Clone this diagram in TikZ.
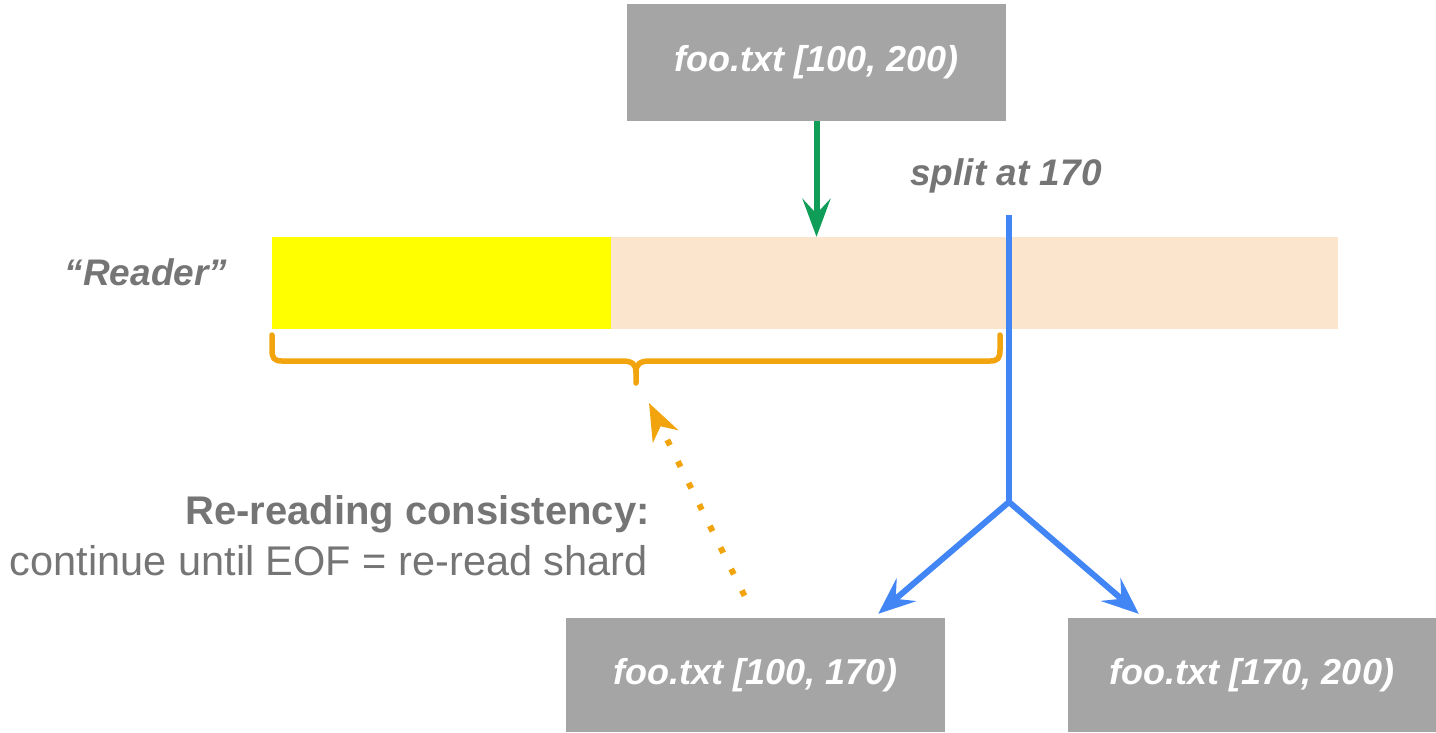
\documentclass[tikz,border=0pt]{standalone}
\usepackage{fontspec}
\setmainfont{Liberation Sans}
\usetikzlibrary{arrows.meta}
\definecolor{boxgray}{RGB}{165,165,165}
\definecolor{txtgray}{RGB}{117,117,117}
\definecolor{flowgreen}{RGB}{15,157,88}
\definecolor{splitblue}{RGB}{66,133,244}
\definecolor{braceorange}{RGB}{241,164,13}
\definecolor{readyellow}{RGB}{255,255,0}
\definecolor{peach}{RGB}{252,229,205}
\begin{document}
% y grows downwards; xshift/yshift below are paper offsets (positive yshift = up)
\begin{tikzpicture}[x=1pt,y=-1pt,
  shard/.style={fill=boxgray, inner sep=0pt, text=white,
    font=\fontsize{36}{43}\selectfont\bfseries\itshape},
  segment/.style={inner sep=0pt, minimum height=92pt},
  caption/.style={text=txtgray, inner sep=0pt},
  bracepath/.style={draw=braceorange, line width=5.5pt, line cap=round, line join=round},
  greenflow/.style={draw=flowgreen, line width=6pt,
    -{Stealth[length=38pt,width=28pt,inset=15pt]}},
  bluesplit/.style={draw=splitblue, line width=6pt},
  bluearrow/.style={bluesplit, -{Stealth[length=37pt,width=30pt,inset=14pt]}},
  dottedarrow/.style={draw=braceorange, line width=6pt, dash pattern=on 6pt off 18pt,
    -{Stealth[length=37pt,width=28pt,inset=11pt]}}]
\useasboundingbox (0,0) rectangle (1436,732);

% source shard
\node[shard, minimum width=379pt, minimum height=117pt] (top) at (816.5,62.5) {foo.txt [100, 200)};

% reader progress bar
\node[segment, fill=readyellow, minimum width=339pt] (done) at (441.5,283) {};
\node[segment, fill=peach, minimum width=727pt] (rest) at (974.5,283) {};

% resulting shards
\node[shard, minimum width=379pt, minimum height=114pt] (left) at (755.5,675) {foo.txt [100, 170)};
\node[shard, minimum width=368pt, minimum height=114pt] (right) at (1252,675) {foo.txt [170, 200)};

% labels
\node[caption, font=\fontsize{37}{44}\selectfont\bfseries\itshape] (reader) at (146,272) {“Reader”};
\node[caption, font=\fontsize{37}{44}\selectfont\bfseries\itshape] (split) at (1006,176) {split at 170};
\node[caption, anchor=base east, font=\fontsize{40}{48}\selectfont\bfseries] (rr) at (650,524) {Re-reading consistency:};
\node[caption, anchor=base east, font=\fontsize{41.5}{50}\selectfont] (cont) at (648,575) {continue until EOF = re-read shard};

% read into the reader
\draw[greenflow] (top.south) -- (top.south |- rest.north);

% split line and its two branches
\coordinate (splitTop) at (1009,215);
\coordinate (fork) at (1009,502);
\draw[bluesplit] (splitTop) -- (fork);
\draw[bluearrow] (fork) -- ([xshift=-67pt,yshift=4pt]left.north east);
\draw[bluearrow] (fork) -- ([xshift=71pt,yshift=4pt]right.north west);

% brace under the first part
\coordinate (braceTip) at (636,383);
\draw[bracepath] (272,335) -- (272,350) .. controls (272,358) and (274,361) .. (282,361)
  -- (622,361) .. controls (632,361) and (636,364) .. (636,372) -- (braceTip);
\draw[bracepath] (636,372) .. controls (636,364) and (640,361) .. (650,361)
  -- (990,361) .. controls (998,361) and (1000,358) .. (1000,350) -- (1000,335);

% re-reading arrow
\draw[dottedarrow] ([xshift=-11pt,yshift=22pt]left.north) -- ([xshift=13pt,yshift=-20pt]braceTip);
\end{tikzpicture}
\end{document}
